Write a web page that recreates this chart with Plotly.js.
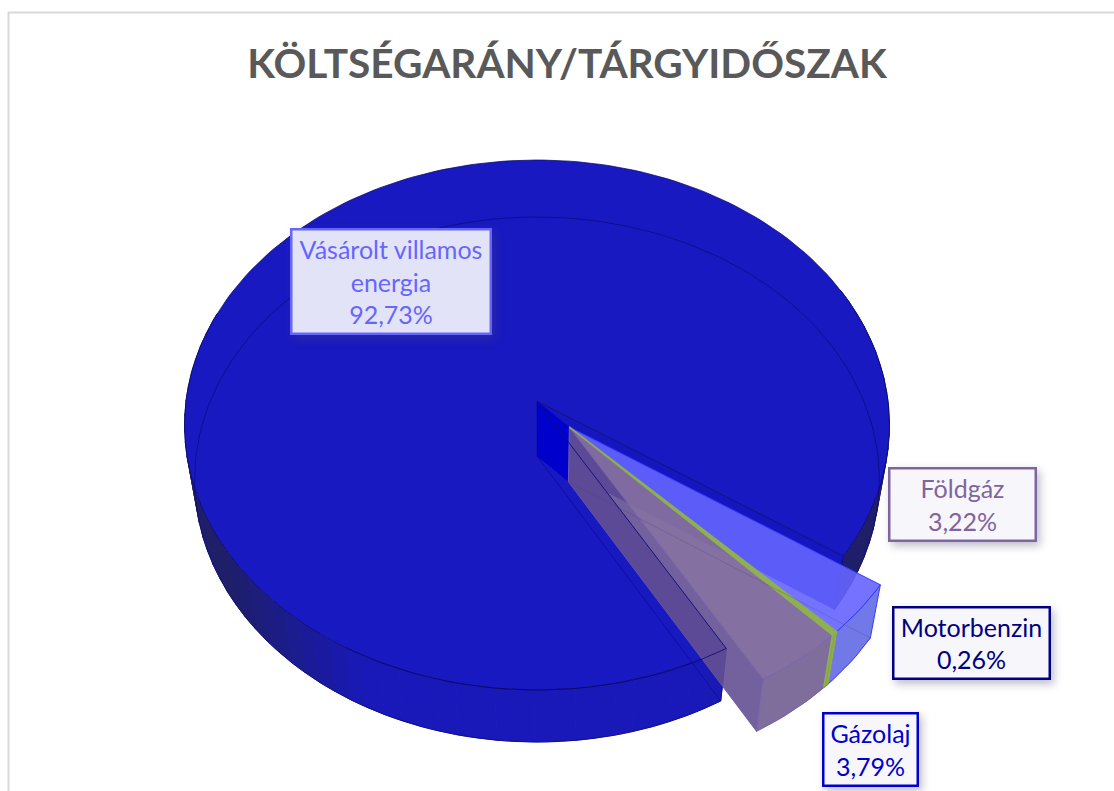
<!DOCTYPE html>
<html><head><meta charset="utf-8">
<script src="https://cdn.plot.ly/plotly-3.0.1.min.js"></script>
<style>
html,body{margin:0;padding:0;background:#fff;overflow:hidden}
.annotation .bg{filter:drop-shadow(3px 4px 4px rgba(70,70,110,.35))}
</style></head><body><div id="chart" style="width:1114px;height:791px"></div>
<script>
const chartTitle = 'KÖLTSÉGARÁNY/TÁRGYIDŐSZAK';
const categories = ['Vásárolt villamos<br>energia', 'Földgáz', 'Motorbenzin', 'Gázolaj'];
const shares = [92.73, 3.22, 0.26, 3.79];
const textColors = ['#6666ff', '#8064a2', '#000080', '#0000cc'];
const boxCenters = [[390.5, 281], [962, 504], [971, 642.5], [870, 749]];
const boxSizes = [[197, 102], [144, 70], [154, 69], [92, 70]];

// Perspective model of the tilted disc (pixel-valued axes below)
const TOP = {cx:537, y0:401, b:351, a:262.8, k:.0906};
const BOT = {cx:537, y0:456, b:341, a:260.4, k:.0895};
const START = 150.2, EXPLODE = .134;
const rad = d => d * Math.PI / 180;
function proj(face, X, Y){
  const w = 1 - face.k * Y;
  return [face.cx + face.b * X / w, face.y0 + face.a * Y / w];
}
function pt(face, ang, r, off){
  return proj(face, r*Math.sin(rad(ang)) + off[0], -r*Math.cos(rad(ang)) + off[1]);
}
function arc(face, a0, a1, off){
  const n = Math.max(2, Math.ceil(Math.abs(a1-a0)/1.5)), out = [];
  for(let i=0;i<=n;i++) out.push(pt(face, a0+(a1-a0)*i/n, 1, off));
  return out;
}
const traces = [];
function poly(points, fill, lineColor, lineWidth){
  traces.push({type:'scatter', mode:'lines', fill: fill ? 'toself' : 'none', fillcolor: fill || undefined,
    x: points.map(p=>p[0]), y: points.map(p=>p[1]),
    line:{color: lineColor || 'rgba(0,0,0,0)', width: lineColor ? (lineWidth||1) : 0},
    hoverinfo:'skip', showlegend:false});
}
// angular spans from the shares
const spans = []; let acc = START;
shares.forEach(s => { const sw = s*3.6; spans.push([acc, acc+sw]); acc += sw; });
const main = spans[0];
const O = [0,0];
const mainC = '#1919c2';
function sideColor(a){
  const X = Math.abs(Math.sin(rad(a)));
  const t = Math.min(1, Math.max(0, (X-.45)/.4));
  return `rgb(${Math.round(25+5*t)},${Math.round(25+5*t)},${Math.round(185-80*t)})`;
}
// main outer wall (only the visible parts)
function wall(a0,a1){
  const step = 3;
  for(let a=a0;a<a1-1e-6;a+=step){
    const b=Math.min(a+step,a1), c=sideColor((a+b)/2);
    poly([pt(TOP,a,1,O),pt(TOP,b,1,O),pt(BOT,b,1,O),pt(BOT,a,1,O),pt(TOP,a,1,O)], c, c, 1);
  }
}
wall(main[0], 290); wall(main[1]-360-60, main[1]-360);
// wall of the cut on the far side
const apT = pt(TOP,0,0,O), apB = pt(BOT,0,0,O);
poly([apT, pt(TOP,main[1],1,O), pt(BOT,main[1],1,O), apB, apT], '#1616c0', 'rgba(0,0,110,.6)', 1);
// main top face
poly([apT, ...arc(TOP, main[0], main[1], O), apT], mainC, 'rgba(10,10,110,.75)', 1);
// lines seen through the translucent disc
poly(arc(BOT, main[0], main[1], O), null, 'rgba(10,10,120,.7)', 1);
poly([pt(BOT,main[0],1,O), apB, apT], null, 'rgba(10,10,150,.7)', 1);
poly([pt(BOT,main[0],1,O), pt(TOP,main[0],1,O)], null, 'rgba(10,10,130,.8)', 1);

// exploded slices
const mid = (spans[1][0] + spans[3][1]) / 2 - 0;
const off = [EXPLODE*Math.sin(rad(mid)), -EXPLODE*Math.cos(rad(mid))];
// bright inner corner between the disc's apex and the exploded apex
poly([apT, pt(TOP,0,0,off), pt(BOT,0,0,off), apB, apT], '#0000cc', null);
const ex = {
  1:{top:'rgba(100,100,255,.9)', wall:'rgba(92,102,228,.88)', edge:'#3a3aff'},
  3:{top:'rgba(131,109,160,.98)', wall:'rgba(122,104,152,.96)', edge:'rgba(120,100,170,.9)'},
  2:{top:'#8fb050', wall:'#8aa84a', edge:'#8fb050'}
};
// purple inner wall sits above the disc, tinted
{
  const a = spans[3][1];
  poly([pt(TOP,0,0,off), pt(TOP,a,1,off), pt(BOT,a,1,off), pt(BOT,0,0,off), pt(TOP,0,0,off)],
    'rgba(100,80,146,.9)', 'rgba(120,100,180,.8)', 1);
}
[1,3,2].forEach(i => {
  const [a0,a1] = spans[i], s = ex[i];
  const botArc = arc(BOT,a0,a1,off), topArc = arc(TOP,a0,a1,off);
  poly([...topArc, ...botArc.slice().reverse(), topArc[0]], s.wall, s.edge, i===2?1.5:1);
  poly([pt(TOP,0,0,off), ...topArc, pt(TOP,0,0,off)], s.top, s.edge, i===2?1.5:1);
});
// edges seen through exploded slices
poly([pt(BOT,spans[1][0],1,off), pt(BOT,0,0,off), pt(BOT,spans[3][1],1,off)], null, 'rgba(70,60,110,.25)', 1);
poly(arc(BOT,spans[1][0],spans[3][1],off), null, 'rgba(70,60,110,.25)', 1);
// main's near-edge lines over the purple wall
poly([pt(TOP,main[0],1,O), apT], null, 'rgba(15,15,120,.9)', 1);
poly(arc(TOP, main[0], main[0]+60, O), null, 'rgba(10,10,110,.8)', 1);

const pct = v => v.toFixed(2).replace('.', ',') + '%';
const annotations = categories.map((c,i)=>({
  xref:'x', yref:'y', x:boxCenters[i][0], y:boxCenters[i][1], xanchor:'center', yanchor:'middle',
  text:c+'<br>'+pct(shares[i]), showarrow:false, align:'center', valign:'middle',
  width:boxSizes[i][0], height:boxSizes[i][1], borderpad:0, borderwidth:2.5,
  bordercolor:textColors[i], bgcolor: i===0 ? 'rgba(232,232,250,.98)' : 'rgba(247,247,251,1)',
  font:{family:'Lato, Carlito, sans-serif', size:25, color:textColors[i]}
}));
const layout = {
  width:1114, height:791, autosize:false, margin:{l:0,r:0,t:0,b:0,pad:0},
  paper_bgcolor:'#fff', plot_bgcolor:'#fff', showlegend:false,
  title:{text:'<b>'+chartTitle+'</b>', font:{family:'Lato, Carlito, sans-serif', size:40.6, color:'#595959'},
    x:567/1114, xref:'paper', xanchor:'center', y:1-64/791, yref:'paper', yanchor:'middle'},
  xaxis:{visible:false, range:[0,1114], fixedrange:true},
  yaxis:{visible:false, range:[791,0], fixedrange:true},
  shapes:[
    {type:'line', xref:'x', yref:'y', x0:8, x1:1114, y0:12.5, y1:12.5, line:{color:'#d9d9d9', width:2}},
    {type:'line', xref:'x', yref:'y', x0:8.5, x1:8.5, y0:12, y1:791, line:{color:'#d9d9d9', width:2}}
  ],
  annotations
};
Plotly.newPlot('chart', traces, layout, {displayModeBar:false, responsive:false, staticPlot:true});
</script></body></html>
